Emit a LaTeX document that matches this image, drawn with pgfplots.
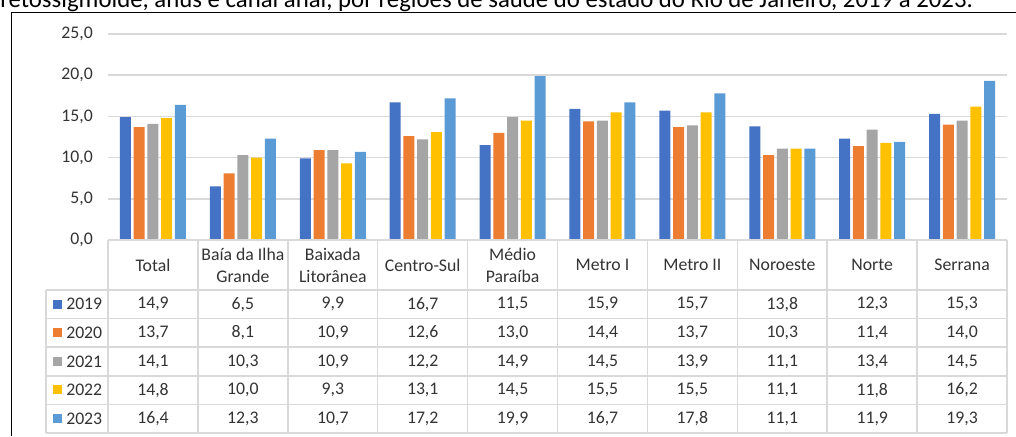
\documentclass[border=0pt]{standalone}
\usepackage{pgfplots}
\usepackage{pgfplotstable}
\pgfplotsset{compat=1.18}
\usepackage{fontspec}
\setmainfont{Carlito}
\definecolor{c19}{HTML}{4472C4}
\definecolor{c20}{HTML}{ED7D31}
\definecolor{c21}{HTML}{A5A5A5}
\definecolor{c22}{HTML}{FFC000}
\definecolor{c23}{HTML}{5B9BD5}
\definecolor{gridgray}{HTML}{D9D9D9}
\definecolor{txt}{HTML}{333333}

\pgfplotstableread{
idx y2019 y2020 y2021 y2022 y2023
0 14.9 13.7 14.1 14.8 16.4
1 6.5 8.1 10.3 10.0 12.3
2 9.9 10.9 10.9 9.3 10.7
3 16.7 12.6 12.2 13.1 17.2
4 11.5 13.0 14.9 14.5 19.9
5 15.9 14.4 14.5 15.5 16.7
6 15.7 13.7 13.9 15.5 17.8
7 13.8 10.3 11.1 11.1 11.1
8 12.3 11.4 13.4 11.8 11.9
9 15.3 14.0 14.5 16.2 19.3
}\data

\begin{document}
\begin{tikzpicture}[x=0.75pt,y=0.75pt]
\useasboundingbox (0,0) rectangle (1016,436);
% truncated title
\node[anchor=base west, inner sep=0pt, font=\fontsize{18.6}{22}\selectfont] at (0,{436-7.3})
  {retossigmoide, ânus e canal anal, por regiões de saúde do estado do Rio de Janeiro, 2019 a 2023.};
% outer frame
\draw[black, line width=1.3pt] (11.5,0) -- (11.5,{436-12.5}) -- (1016,{436-12.5});

\begin{axis}[
  at={(81pt,147pt)}, anchor=south west,
  width=674.25pt, height=154.5pt, scale only axis,
  xmin=-0.5, xmax=9.5, ymin=0, ymax=25,
  ytick={0,5,...,25},
  xtick=\empty,
  axis lines=left,
  axis line style={draw=none},
  ymajorgrids,
  major grid style={draw=gridgray, line width=1.125pt},
  major tick length=0pt,
  /pgf/number format/.cd, fixed, fixed zerofill, precision=1, use comma, assume math mode=true,
  /pgfplots/.cd,
  yticklabel style={font=\fontsize{13.3}{16}\selectfont, text=txt, anchor=east, inner sep=0pt, xshift=-11.25pt},
  ybar, bar width=8.25pt,
  clip=false,
]
\addplot[fill=c19, draw=none, bar shift=-20.625pt] table[x=idx,y=y2019]{\data};
\addplot[fill=c20, draw=none, bar shift=-10.3125pt] table[x=idx,y=y2020]{\data};
\addplot[fill=c21, draw=none, bar shift=0pt] table[x=idx,y=y2021]{\data};
\addplot[fill=c22, draw=none, bar shift=10.3125pt] table[x=idx,y=y2022]{\data};
\addplot[fill=c23, draw=none, bar shift=20.625pt] table[x=idx,y=y2023]{\data};
\end{axis}

% data table
\begin{scope}[shift={(0,436)}, yscale=-1]
  \draw[gridgray, line width=1.125pt] (108,240) -- (1007,240);
  \foreach \k in {0,...,5} {
    \draw[gridgray, line width=1.125pt] (46,{290+28.6*\k}) -- (1007,{290+28.6*\k});
  }
  \draw[gridgray, line width=1.125pt] (46,290) -- (46,433);
  \foreach \k in {0,...,10} {
    \draw[gridgray, line width=1.125pt] ({108+89.9*\k},240) -- ({108+89.9*\k},433);
  }
  \begin{scope}[every node/.style={font=\fontsize{13.3}{16.5}\selectfont, text=txt, align=center, inner sep=0pt}]
    \foreach [count=\i from 0] \lab in {Total, Baía da Ilha\\Grande, Baixada\\Litorânea, Centro-Sul, Médio\\Paraíba, Metro I, Metro II, Noroeste, Norte, Serrana} {
      \node at ({153+89.9*\i},265) {\lab};
    }
    \foreach [count=\k from 0] \yr/\col in {2019/c19, 2020/c20, 2021/c21, 2022/c22, 2023/c23} {
      \fill[\col] (53,{299.5+28.6*\k}) rectangle (62,{308.5+28.6*\k});
      \node[anchor=west] at (66,{304.3+28.6*\k}) {\yr};
    }
    \foreach \r in {0,...,9} {
      \foreach [count=\k from 0] \c in {y2019,y2020,y2021,y2022,y2023} {
        \pgfplotstablegetelem{\r}{\c}\of\data
        \node at ({153+89.9*\r},{304.3+28.6*\k}) {\pgfmathprintnumber[fixed,fixed zerofill,precision=1,use comma,assume math mode=true]{\pgfplotsretval}};
      }
    }
  \end{scope}
\end{scope}
\end{tikzpicture}
\end{document}
